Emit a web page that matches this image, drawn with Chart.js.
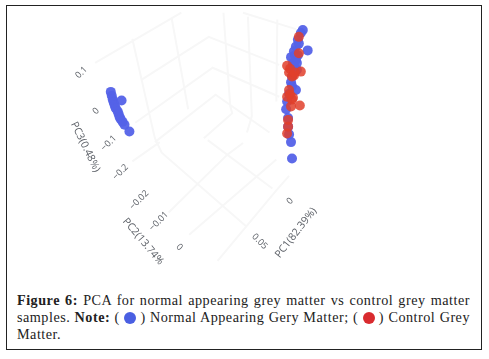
<!DOCTYPE html>
<html>
<head>
<meta charset="utf-8">
<script src="https://cdn.jsdelivr.net/npm/chart.js@4"></script>
<style>
    html, body { margin: 0; padding: 0; background: #fff; }
    #frame { position: absolute; left: 6px; top: 5px; width: 474px; height: 343px; border: 1px solid #222; }
    #plot { position: absolute; left: 0; top: 0; width: 489px; height: 290px; filter: blur(0.5px); }
    #caption { position: absolute; left: 17px; top: 292px; width: 453px; margin: 0; color: #222; font: 14.2px/17px "Liberation Serif", serif; letter-spacing: 0.5px; }
    #caption div { text-align: justify; text-align-last: justify; white-space: nowrap; }
    #caption div.last { text-align-last: left; }
    .dot { display: inline-block; width: 12px; height: 12px; border-radius: 50%; vertical-align: -2px; }
</style>
</head>
<body>
<div id="frame"></div>
<div id="plot"><canvas id="pcaChart"></canvas></div>
<div id="caption">
    <div><b>Figure 6:</b> PCA for normal appearing grey matter vs control grey matter</div>
    <div>samples. <b>Note:</b> ( <span class="dot" style="background:#4a5fe2"></span> ) Normal Appearing Gery Matter; ( <span class="dot" style="background:#d92b2f"></span> ) Control Grey</div>
    <div class="last">Matter.</div>
</div>
<script>
// projected sample positions
const normalX = [108, 109, 110, 111, 112, 113, 119, 115, 116, 117, 118, 120, 122, 127, 304, 302, 309, 297, 295, 292, 297, 295, 298, 292, 297, 287, 292, 293, 299, 296, 300, 294, 293, 290, 288, 289, 289, 290, 299, 294, 298, 293];
const normalY = [90, 94, 98, 101, 104, 107, 99, 110, 113, 116, 118, 121, 124, 131, 26, 29, 47, 43, 48, 54, 57, 63, 67, 80, 88, 108, 142, 159, 36, 52, 40, 60, 74, 92, 100, 117, 126, 134, 52, 65, 60, 84];
const controlX = [300, 300, 288, 290, 302, 295, 290, 288, 293, 292, 301, 289, 289, 288, 291, 293, 296, 291, 294];
const controlY = [33, 50, 63, 70, 69, 73, 88, 95, 98, 105, 104, 119, 126, 133, 66, 74, 70, 93, 96];

// faint wireframe of the 3D box, null breaks the line
const gridX = [92, 180, null, 130, 153, 160, 247, null, 170, 187, null, 140, 208, 280, null, 133, 212, 280, null, 153, 215, 270, null, 223, 230, 232, 203, null, 248, 252, 247, null, 278, 277, null, 243, 297, null, 207, 273, null, 130, 158, null, 167, 227, 243, null, 188, 277, null, 217, 277, 290];
const gridY = [60, 8, null, 35, 138, 153, 230, null, 13, 108, null, 77, 33, 62, null, 122, 65, 95, null, 142, 93, 132, null, 8, 105, 112, 138, null, 12, 115, 132, null, 15, 100, null, 8, 25, null, 140, 190, null, 162, 142, null, 215, 155, 143, null, 238, 160, null, 265, 192, 177];

const tickLabels = ['0.1', '0', '\u22120.1', '\u22120.2', '\u22120.02', '\u22120.01', '0', '0', '0.05'];
const tickX = [78, 93, 106, 118, 137, 157, 178, 291, 260];
const tickY = [70, 110, 143, 173, 202, 224, 251, 203, 245];
const tickAngle = [-45, -45, -45, -45, -45, -45, 45, -45, 45];

const axisTitles = ['PC3(0.48%)', 'PC2(13.74%', 'PC1(82.39%)'];
const titleX = [82, 141, 297];
const titleY = [147, 245, 236];
const titleAngle = [64, 50, -52];

const toPoints = (xs, ys) => xs.map((x, i) => (x === null ? { x: NaN, y: NaN } : { x: x, y: ys[i] }));

// rotated labels of the 3D axes
const axisText = {
    id: 'axisText',
    afterDatasetsDraw(chart) {
        const ctx = chart.ctx;
        const put = (text, x, y, angle, font) => {
            ctx.save();
            ctx.translate(chart.scales.x.getPixelForValue(x), chart.scales.y.getPixelForValue(y));
            ctx.rotate(angle * Math.PI / 180);
            ctx.font = font;
            ctx.fillStyle = '#5c6067';
            ctx.textAlign = 'center';
            ctx.textBaseline = 'middle';
            ctx.fillText(text, 0, 0);
            ctx.restore();
        };
        tickLabels.forEach((t, i) => put(t, tickX[i], tickY[i], tickAngle[i], '9px "Open Sans"'));
        axisTitles.forEach((t, i) => put(t, titleX[i], titleY[i], titleAngle[i], '10.5px "Open Sans"'));
    }
};

new Chart(document.getElementById('pcaChart').getContext('2d'), {
    type: 'scatter',
    data: {
        // first dataset is drawn on top
        datasets: [
            {
                label: 'Control Grey Matter',
                data: toPoints(controlX, controlY),
                backgroundColor: 'rgba(224, 64, 44, 0.85)',
                borderWidth: 0,
                pointRadius: 5
            },
            {
                label: 'Normal Appearing Gery Matter',
                data: toPoints(normalX, normalY),
                backgroundColor: 'rgba(84, 98, 232, 0.95)',
                borderWidth: 0,
                pointRadius: 5
            },
            {
                label: 'Grid',
                data: toPoints(gridX, gridY),
                showLine: true,
                spanGaps: false,
                borderColor: '#f7f7f7',
                borderWidth: 2,
                pointRadius: 0
            }
        ]
    },
    options: {
        responsive: true,
        maintainAspectRatio: false,
        animation: false,
        layout: { padding: 0 },
        plugins: {
            legend: { display: false },
            tooltip: { enabled: false }
        },
        scales: {
            x: { type: 'linear', display: false, min: 0, max: 489 },
            y: { type: 'linear', display: false, min: 0, max: 290, reverse: true }
        }
    },
    plugins: [axisText]
});
</script>
</body>
</html>
